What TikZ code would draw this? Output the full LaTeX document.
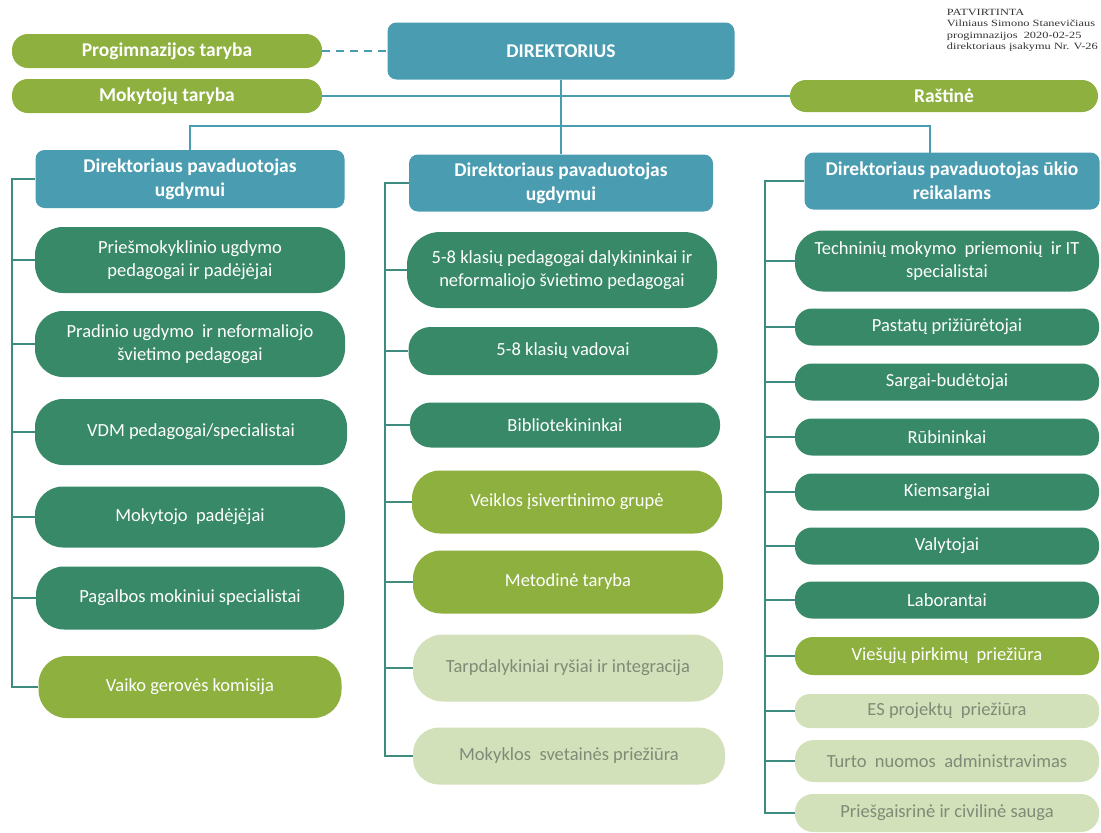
\documentclass[tikz,border=0pt]{standalone}
\usepackage{fontspec}
\setmainfont{Carlito}
\newfontfamily\notefont[FakeStretch=1.3]{Liberation Serif}

\definecolor{orgteal}{HTML}{4A9CB1}
\definecolor{orgdark}{HTML}{388968}
\definecolor{orgolive}{HTML}{8DB03E}
\definecolor{orglight}{HTML}{D3E1BA}
\definecolor{orggrey}{HTML}{7F8B77}
\definecolor{orgline}{HTML}{3E8B80}

\tikzset{
	orgnode/.style={align=center, inner sep=0pt, font=\fontsize{18.5}{23}\selectfont},
	headbox/.style={orgnode, fill=orgteal, text=white, rounded corners=9pt, font=\fontsize{19.5}{24}\selectfont\bfseries},
	topbox/.style={headbox, fill=orgolive, rounded corners=16pt},
	darkbox/.style={orgnode, fill=orgdark, text=white, rounded corners=#1},
	darkbox/.default=28pt,
	olivebox/.style={orgnode, fill=orgolive, text=white, rounded corners=#1},
	olivebox/.default=28pt,
	lightbox/.style={orgnode, fill=orglight, text=orggrey, rounded corners=#1},
	lightbox/.default=28pt,
	topline/.style={draw=orgteal, line width=1.6pt},
	spine/.style={draw=orgline, line width=1.6pt},
}

\begin{document}
\begin{tikzpicture}[x=1pt, y=-1pt]
	\useasboundingbox[fill=white] (0,0) rectangle (1101,833);

	% top
	\node[headbox, minimum width=347pt, minimum height=57pt] (dir) at (561,51) {DIREKTORIUS};
	\node[topbox, minimum width=310pt, minimum height=34pt] (prog) at (167,51) {Progimnazijos taryba};
	\node[topbox, minimum width=310pt, minimum height=34pt] (mok) at (167,96) {Mokytojų taryba};
	\node[topbox, minimum width=308pt, minimum height=32pt] (rast) at (944,96) {Raštinė};

	\node[anchor=north east, align=left, inner sep=0pt, font=\notefont\fontsize{9.5}{11.3}\selectfont, text=black!80] (note) at (1098,9)
		{PATVIRTINTA\\Vilniaus Simono Stanevičiaus\\progimnazijos\ \ 2020-02-25\\direktoriaus įsakymu Nr. V-26};

	% deputies
	\node[headbox, minimum width=309pt, minimum height=58pt] (ldep) at (190,179) {Direktoriaus pavaduotojas\\ugdymui};
	\node[headbox, minimum width=304pt, minimum height=57pt] (mdep) at (561,183) {Direktoriaus pavaduotojas\\ugdymui};
	\node[headbox, minimum width=295pt, minimum height=57pt] (rdep) at (952,181) {Direktoriaus pavaduotojas ūkio\\reikalams};

	% left column
	\node[darkbox, minimum width=310pt, minimum height=66pt] (l1) at (190,260) {Priešmokyklinio\ ugdymo\\pedagogai ir padėjėjai};
	\node[darkbox, minimum width=310pt, minimum height=66pt] (l2) at (190,344) {Pradinio ugdymo\ \ ir neformaliojo\\švietimo pedagogai};
	\node[darkbox, minimum width=312pt, minimum height=66pt] (l3) at (191,432) {VDM pedagogai/specialistai};
	\node[darkbox, minimum width=310pt, minimum height=61pt] (l4) at (190,517) {Mokytojo\ \ padėjėjai};
	\node[darkbox, minimum width=308pt, minimum height=63pt] (l5) at (190,598) {Pagalbos mokiniui specialistai};
	\node[olivebox, minimum width=303pt, minimum height=62pt] (l6) at (190,687) {Vaiko gerovės komisija};

	% middle column
	\node[darkbox=33pt, minimum width=310pt, minimum height=76pt] (m1) at (562,270) {5-8 klasių pedagogai dalykininkai ir\\neformaliojo švietimo pedagogai};
	\node[darkbox=22pt, minimum width=309pt, minimum height=48pt] (m2) at (563,351) {5-8 klasių vadovai};
	\node[darkbox=21pt, minimum width=310pt, minimum height=45pt] (m3) at (565,425) {Bibliotekininkai};
	\node[olivebox, minimum width=310pt, minimum height=63pt] (m4) at (567,502) {Veiklos įsivertinimo grupė};
	\node[olivebox, minimum width=310pt, minimum height=63pt] (m5) at (568,582) {Metodinė taryba};
	\node[lightbox=30pt, minimum width=310pt, minimum height=67pt] (m6) at (568,668) {Tarpdalykiniai ryšiai ir integracija};
	\node[lightbox=26pt, minimum width=312pt, minimum height=57pt] (m7) at (569,756) {Mokyklos\ \ svetainės priežiūra};

	% right column
	\node[darkbox, minimum width=304pt, minimum height=61pt] (r1) at (947,261) {Techninių mokymo\ \ priemonių\ \ ir IT\\specialistai};
	\node[darkbox=17pt, minimum width=304pt, minimum height=37pt] (r2) at (947,327) {Pastatų prižiūrėtojai};
	\node[darkbox=17pt, minimum width=304pt, minimum height=37pt] (r3) at (947,382) {Sargai-budėtojai};
	\node[darkbox=17pt, minimum width=304pt, minimum height=37pt] (r4) at (947,437) {Rūbininkai};
	\node[darkbox=17pt, minimum width=304pt, minimum height=37pt] (r5) at (947,492) {Kiemsargiai};
	\node[darkbox=17pt, minimum width=304pt, minimum height=37pt] (r6) at (947,546) {Valytojai};
	\node[darkbox=17pt, minimum width=304pt, minimum height=37pt] (r7) at (947,600) {Laborantai};
	\node[olivebox=18pt, minimum width=304pt, minimum height=38pt] (r8) at (947,656) {Viešųjų pirkimų\ \ priežiūra};
	\node[lightbox=15pt, minimum width=304pt, minimum height=34pt] (r9) at (947,711) {ES projektų\ \ priežiūra};
	\node[lightbox=19pt, minimum width=304pt, minimum height=42pt] (r10) at (947,761) {Turto\ \ nuomos\ \ administravimas};
	\node[lightbox=18pt, minimum width=304pt, minimum height=38pt] (r11) at (947,813) {Priešgaisrinė ir civilinė sauga};

	% lines
	\coordinate (bus) at (562,126);
	\coordinate (rdrop) at (930,153);
	\draw[topline, dash pattern=on 8pt off 6pt] (prog.east) -- (dir.west);
	\draw[topline] (mok.east) -- (rast.west);
	\draw[topline] (dir.south) -- (mdep.north);
	\draw[topline] (ldep.north) |- (bus) -| (rdrop);

	\coordinate (lsp) at (12,179);
	\coordinate (msp) at (385,183);
	\coordinate (rsp) at (765,181);
	\draw[spine] (ldep.west) -- (lsp) |- (l6.west);
	\draw[spine] (mdep.west) -- (msp) |- (m7.west);
	\draw[spine] (rdep.west) -- (rsp) |- (r11.west);
	\foreach \n in {l1,l2,l3,l4,l5}
		\draw[spine] (lsp |- \n.west) -- (\n.west);
	\foreach \n in {m1,m2,m3,m4,m5,m6}
		\draw[spine] (msp |- \n.west) -- (\n.west);
	\foreach \n in {r1,r2,r3,r4,r5,r6,r7,r8,r9,r10}
		\draw[spine] (rsp |- \n.west) -- (\n.west);
\end{tikzpicture}
\end{document}
